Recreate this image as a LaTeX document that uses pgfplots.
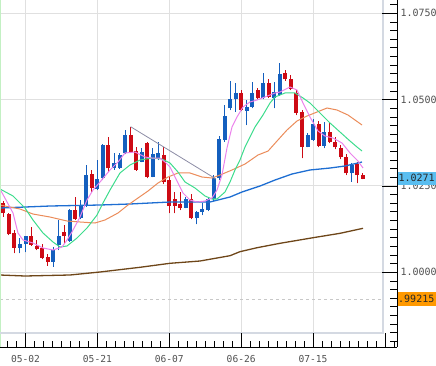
\documentclass[border=0pt]{standalone}
\usepackage{pgfplots}
\pgfplotsset{compat=1.18}
\usepackage{pgfplotstable}
\usepackage{fontspec}
\newfontfamily\monof{DejaVu Sans Mono}

\definecolor{gridgrey}{RGB}{224,224,224}
\definecolor{bordergrey}{RGB}{212,217,226}
\definecolor{cblue}{RGB}{20,95,190}
\definecolor{cred}{RGB}{205,10,20}
\definecolor{mapink}{RGB}{235,130,235}
\definecolor{magreen}{RGB}{60,220,140}
\definecolor{maorange}{RGB}{235,140,90}
\definecolor{mablue}{RGB}{30,110,210}
\definecolor{mabrown}{RGB}{110,70,25}
\definecolor{trendgrey}{RGB}{140,140,165}
\definecolor{leftgreen}{RGB}{195,240,195}
\definecolor{dashgrey}{RGB}{200,200,200}
\definecolor{labgrey}{RGB}{80,80,80}
\definecolor{pricebl}{RGB}{90,190,240}
\definecolor{priceor}{RGB}{255,153,0}

\pgfplotstableread{
i O H L C
3 1.00712 1.00993 1.00550 1.00811
4 1.00811 1.01060 1.00579 1.01051
9 1.00307 1.00741 1.00162 1.00646
10 1.00791 1.01515 1.00646 1.01051
12 1.00915 1.01833 1.00886 1.01804
14 1.01564 1.02094 1.01535 1.01949
15 1.01949 1.03107 1.01900 1.02818
17 1.02412 1.03252 1.02383 1.02702
18 1.02722 1.03707 1.02673 1.03687
20 1.03012 1.03446 1.02963 1.03157
21 1.03012 1.03446 1.02992 1.03397
22 1.03446 1.04121 1.03417 1.03976
25 1.03203 1.03591 1.03186 1.03493
27 1.02769 1.03591 1.02751 1.03417
28 1.03310 1.03774 1.03252 1.03446
33 1.01871 1.02172 1.01853 1.02123
35 1.01564 1.01784 1.01390 1.01755
36 1.01755 1.01998 1.01659 1.01824
37 1.01804 1.02189 1.01775 1.02123
38 1.02114 1.02818 1.02065 1.02722
39 1.02722 1.03947 1.02673 1.03852
40 1.03831 1.04845 1.03782 1.04526
41 1.04749 1.05549 1.04700 1.05010
42 1.05010 1.05491 1.04651 1.05184
44 1.04680 1.04990 1.04266 1.04796
45 1.04796 1.05520 1.04749 1.05184
47 1.05039 1.05763 1.05010 1.05473
49 1.05039 1.05520 1.04749 1.05230
50 1.05135 1.06053 1.05106 1.05743
55 1.03637 1.04043 1.03620 1.03976
56 1.03831 1.04431 1.03811 1.04295
58 1.03658 1.04361 1.03591 1.04072
63 1.02867 1.03157 1.02624 1.03107
}\upT

\pgfplotstableread{
i O H L C
0 1.01998 1.02074 1.01610 1.01709
1 1.01688 1.01717 1.01080 1.01109
2 1.01147 1.01225 1.00550 1.00712
5 1.01051 1.01312 1.00762 1.00791
6 1.00762 1.00935 1.00646 1.00675
7 1.00712 1.00811 1.00385 1.00423
8 1.00452 1.00530 1.00191 1.00307
11 1.01176 1.01370 1.00840 1.01051
13 1.01804 1.02189 1.01515 1.01544
16 1.02847 1.02963 1.02334 1.02441
19 1.03687 1.03910 1.02913 1.03012
23 1.03976 1.04217 1.03475 1.03493
24 1.03513 1.03637 1.02934 1.02963
26 1.03736 1.03782 1.02722 1.02769
29 1.03397 1.03629 1.02557 1.02615
30 1.02673 1.02760 1.01709 1.01920
31 1.02123 1.02325 1.01709 1.01920
32 1.01969 1.02334 1.01804 1.01871
34 1.02123 1.02259 1.01535 1.01564
43 1.05184 1.05279 1.04680 1.04700
46 1.05279 1.05329 1.05010 1.05039
48 1.05473 1.05589 1.05048 1.05077
51 1.05780 1.05859 1.05549 1.05589
52 1.05589 1.05714 1.05279 1.05300
53 1.05184 1.05279 1.04555 1.04622
54 1.04651 1.04700 1.03301 1.03637
57 1.04295 1.04390 1.03620 1.03658
59 1.04072 1.04361 1.03736 1.03782
60 1.03782 1.03910 1.03562 1.03620
61 1.03591 1.03687 1.03272 1.03330
62 1.03330 1.03426 1.02818 1.02867
64 1.03136 1.03203 1.02577 1.02818
65 1.02818 1.02867 1.02693 1.02710
}\downT

\pgfplotsset{candle/.style={only marks, mark=*, mark size=0pt,
  mark options={draw=none, fill=none},
  error bars/.cd, y dir=plus, y explicit, error mark=none}}

\begin{document}
\begin{tikzpicture}
\begin{axis}[
  at={(0,0)}, anchor=north west,
  scale only axis, width=397pt, height=347pt,
  xmin=-0.6148, xmax=71.176, ymin=0.978367, ymax=1.078859,
  axis x line*=bottom, axis y line*=right,
  axis line style={-, black, line width=1pt},
  xtick={4,17,30,43,56}, xticklabels={05-02,05-21,06-07,06-26,07-15},
  ytick={1,1.025,1.05,1.075}, yticklabels={1.0000,1.0250,1.0500,1.0750},
  xticklabel pos=bottom, yticklabel pos=right,
  major tick length=0pt,
  grid=major, major grid style={gridgrey, line width=1pt},
  xticklabel style={font=\monof\fontsize{9.6pt}{11pt}\selectfont, text=labgrey, anchor=base, yshift=-15.5pt},
  yticklabel style={font=\monof\fontsize{10pt}{11pt}\selectfont, text=labgrey, anchor=west},
]
% reference dashed line
\draw[dashgrey, line width=0.8pt, dash pattern=on 3pt off 3pt] (axis cs:-0.6148,0.99215) -- (axis cs:68.64,0.99215);

% wicks
\addplot[candle, error bar style={draw=cblue, line width=1pt}]
  table[x=i, y=L, y error plus expr=\thisrow{H}-\thisrow{L}] {\upT};
\addplot[candle, error bar style={draw=cred, line width=1pt}]
  table[x=i, y=L, y error plus expr=\thisrow{H}-\thisrow{L}] {\downT};
% bodies
\addplot[candle, error bar style={draw=cblue, line width=4pt}]
  table[x=i, y=O, y error plus expr=\thisrow{C}-\thisrow{O}] {\upT};
\addplot[candle, error bar style={draw=cred, line width=4pt}]
  table[x=i, y=C, y error plus expr=\thisrow{O}-\thisrow{C}] {\downT};

% long MA (brown)
\addplot[mabrown, line width=1.3pt] coordinates {(-0.61,0.99922)(3.91,0.99893)(12.04,0.99922)(17.47,1.00009)(24.7,1.00145)(30.13,1.00261)(35.55,1.00327)(40.98,1.00481)(42.78,1.00597)(45.86,1.00712)(50.02,1.00840)(56.0,1.01002)(60.87,1.01129)(65.03,1.01274)};
% blue MA
\addplot[mablue, line width=1.3pt] coordinates {(-0.61,1.01862)(3.91,1.01891)(8.43,1.01920)(17.47,1.01949)(22.89,1.01978)(30.13,1.02036)(37.36,1.02036)(40.98,1.02181)(43.14,1.02325)(46.4,1.02499)(49.12,1.02673)(52.19,1.02847)(55.44,1.02963)(59.06,1.03020)(61.77,1.03078)(64.85,1.03194)};
% orange MA
\addplot[maorange, line width=1pt] coordinates {(-0.61,1.01949)(1.19,1.01891)(3.0,1.01833)(5.35,1.01688)(8.43,1.01601)(11.5,1.01486)(13.85,1.01457)(16.56,1.01428)(18.37,1.01515)(20.72,1.01717)(22.53,1.01949)(24.34,1.02152)(26.15,1.02354)(27.96,1.02586)(29.77,1.02760)(31.57,1.02876)(33.74,1.02876)(35.91,1.02760)(37.72,1.02731)(39.17,1.02818)(41.34,1.02963)(43.69,1.03136)(46.04,1.03397)(47.87,1.03513)(49.48,1.03802)(51.28,1.04121)(53.09,1.04382)(54.9,1.04526)(56.71,1.04642)(58.52,1.04758)(60.33,1.04700)(62.31,1.04555)(63.58,1.04411)(64.85,1.04266)};
% green MA
\addplot[magreen, line width=1pt] coordinates {(-0.61,1.02412)(1.74,1.02210)(3.91,1.01862)(5.35,1.01515)(7.16,1.01138)(8.97,1.00877)(10.24,1.00733)(11.5,1.00762)(13.31,1.00993)(15.12,1.01283)(16.93,1.01659)(18.01,1.02007)(19.28,1.02383)(21.08,1.02876)(22.89,1.03107)(24.7,1.03252)(26.87,1.03310)(28.68,1.03281)(30.13,1.03165)(31.57,1.02905)(32.84,1.02615)(34.65,1.02441)(36.46,1.02210)(37.72,1.02123)(38.63,1.02123)(40.07,1.02325)(40.98,1.02615)(41.88,1.02963)(42.78,1.03252)(43.69,1.03629)(44.59,1.03918)(45.5,1.04208)(46.94,1.04555)(48.21,1.04903)(49.12,1.05077)(50.92,1.05193)(52.73,1.05193)(54.18,1.05048)(55.44,1.04903)(57.25,1.04613)(59.06,1.04324)(60.87,1.04063)(62.68,1.03802)(63.94,1.03629)(64.85,1.03513)};
% pink MA
\addplot[mapink, line width=1pt] coordinates {(-0.61,1.02412)(1.74,1.01717)(2.64,1.01138)(3.54,1.00935)(5.35,1.00849)(7.16,1.00704)(8.97,1.00646)(10.6,1.00733)(11.5,1.00935)(12.4,1.01167)(13.85,1.01601)(15.12,1.02094)(16.2,1.02383)(17.47,1.02615)(19.28,1.02963)(20.72,1.03194)(21.99,1.03455)(23.8,1.03484)(25.61,1.03339)(26.87,1.03310)(28.32,1.03310)(29.22,1.03194)(30.13,1.03049)(31.39,1.02644)(32.48,1.02297)(33.74,1.02094)(35.01,1.02036)(36.46,1.02065)(37.72,1.02152)(38.63,1.02383)(39.53,1.02818)(40.43,1.03600)(41.34,1.04208)(42.24,1.04497)(43.32,1.04787)(44.59,1.04932)(45.86,1.04990)(47.3,1.05077)(49.12,1.05193)(50.02,1.05222)(51.83,1.05366)(53.09,1.05279)(54.18,1.04903)(55.44,1.04497)(56.89,1.04092)(58.15,1.03947)(59.6,1.03889)(61.23,1.03745)(62.68,1.03455)(64.12,1.03223)(65.03,1.03020)};
% trend line
\addplot[trendgrey, line width=0.8pt] coordinates {(23,1.04217)(38.45,1.02702)};
\end{axis}

% frame decorations (1pt = 1px, origin at top-left of the chart)
\draw[leftgreen, line width=1.2pt] (0.6pt,0) -- (0.6pt,-347pt);
\draw[bordergrey, line width=1.2pt] (0,-333pt) -- (383pt,-333pt) -- (383pt,0);
\foreach \m in {-2,...,41} {
  \draw[black, line width=0.8pt] ({25.52pt+8.98625pt*\m},-347pt) -- ++(0,6.5pt);
}
\foreach \k in {0,...,5} {
  \draw[black, line width=0.8pt] ({25.52pt+71.89pt*\k},-347pt) -- ++(0,14pt);
}
\foreach \k in {0,...,39} {
  \draw[black, line width=0.8pt] (397pt,{-341.36pt+8.6325pt*\k}) -- ++(-7pt,0);
}
\foreach \k in {8,18,28,38} {
  \draw[black, line width=0.8pt] (397pt,{-341.36pt+8.6325pt*\k}) -- ++(-15pt,0);
}
% price labels
\fill[pricebl] (397.5pt,-171.7pt) rectangle (440pt,-184.7pt);
\node[anchor=west, inner sep=0pt, font=\monof\fontsize{10pt}{11pt}\selectfont, text={rgb,255:red,40;green,40;blue,40}] at (398.3pt,-178.2pt) {1.0271};
\fill[priceor] (397.5pt,-291.7pt) rectangle (440pt,-305.7pt);
\node[anchor=west, inner sep=0pt, font=\monof\fontsize{10pt}{11pt}\selectfont, text={rgb,255:red,40;green,40;blue,40}] at (398pt,-298.7pt) {.99215};

\pgfresetboundingbox
\path[use as bounding box] (0,0) rectangle (436pt,-365pt);
\end{tikzpicture}
\end{document}
